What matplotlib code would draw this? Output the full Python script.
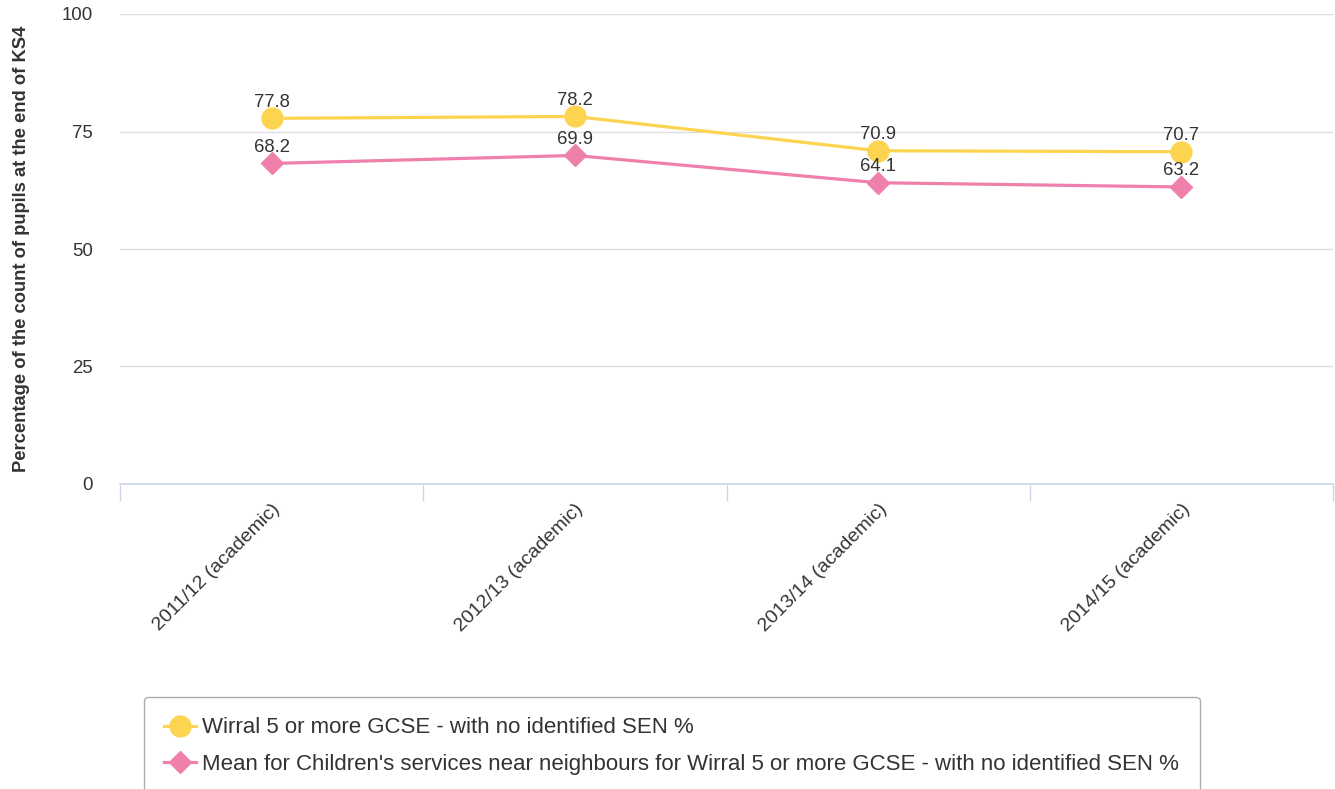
import matplotlib.pyplot as plt
import numpy as np

plt.rcParams["font.family"] = ["Liberation Sans", "DejaVu Sans"]

# ----------------------------------------
# Data
# ----------------------------------------

years = [
    "2011/12 (academic)",
    "2012/13 (academic)",
    "2013/14 (academic)",
    "2014/15 (academic)",
]

wirral = [77.8, 78.2, 70.9, 70.7]

neighbours = [68.2, 69.9, 64.1, 63.2]

wirral_label = "Wirral 5 or more GCSE - with no identified SEN %"

neighbours_label = (
    "Mean for Children's services near neighbours for Wirral "
    "5 or more GCSE - with no identified SEN %"
)

yellow = "#fcd44f"
pink = "#ee80ab"
text_color = "#333333"

fig = plt.figure(figsize=(13.35, 7.89), dpi=100)

ax = fig.add_axes([120 / 1335, 1 - 484 / 789, 1213 / 1335, 470 / 789])

x = np.arange(len(years))

# ----------------------------------------
# Series
# ----------------------------------------

ax.plot(
    x,
    wirral,
    color=yellow,
    linewidth=2.3,
    marker="o",
    markersize=15,
    label=wirral_label,
    zorder=4,
)

ax.plot(
    x,
    neighbours,
    color=pink,
    linewidth=2.3,
    marker="D",
    markersize=11,
    label=neighbours_label,
    zorder=3,
)

# ----------------------------------------
# Data labels
# ----------------------------------------

for series in [wirral, neighbours]:
    for xi, v in zip(x, series):
        ax.annotate(
            f"{v:.1f}",
            (xi, v),
            xytext=(0, 8.5),
            textcoords="offset points",
            ha="center",
            va="baseline",
            fontsize=13.3,
            color=text_color,
            zorder=5,
        )

# ----------------------------------------
# Axes
# ----------------------------------------

ax.set_xlim(-0.5, len(years) - 0.5)
ax.set_ylim(0, 100)

ax.set_yticks([0, 25, 50, 75, 100])
ax.tick_params(axis="y", length=0, pad=19.5, labelsize=13.4, labelcolor=text_color)
for lbl in ax.get_yticklabels():
    lbl.set_horizontalalignment("right")

ax.set_xticks(np.arange(len(years) + 1) - 0.5)
ax.set_xticklabels([])
ax.set_xticks(x, minor=True)
ax.set_xticklabels(years, minor=True, rotation=45, ha="right",
                   rotation_mode="anchor", fontsize=14, color=text_color)
ax.tick_params(axis="x", which="major", length=12, color="#ccd6eb", width=1)
ax.tick_params(axis="x", which="minor", length=0, pad=12)

ax.grid(axis="y", color="#dedede", linewidth=1)
ax.set_axisbelow(True)

for side in ["top", "right", "left"]:
    ax.spines[side].set_visible(False)
ax.spines["bottom"].set_color("#ccd6eb")
ax.spines["bottom"].set_linewidth(1.2)

fig.text(
    22 / 1335,
    1 - 249 / 789,
    "Percentage of the count of pupils at the end of KS4",
    rotation=90,
    ha="center",
    va="center",
    fontsize=13.2,
    fontweight="bold",
    color=text_color,
)

# ----------------------------------------
# Legend
# ----------------------------------------

leg = fig.legend(
    loc="upper left",
    bbox_to_anchor=(144 / 1335, 1 - 697 / 789),
    fontsize=16,
    frameon=True,
    fancybox=True,
    edgecolor="#999999",
    handlelength=1.4,
    handletextpad=0.3,
    labelspacing=0.68,
    borderpad=0.92,
    borderaxespad=0,
)
leg.get_frame().set_linewidth(1)
for t in leg.get_texts():
    t.set_color(text_color)

fig.savefig("out.png", dpi=100)
